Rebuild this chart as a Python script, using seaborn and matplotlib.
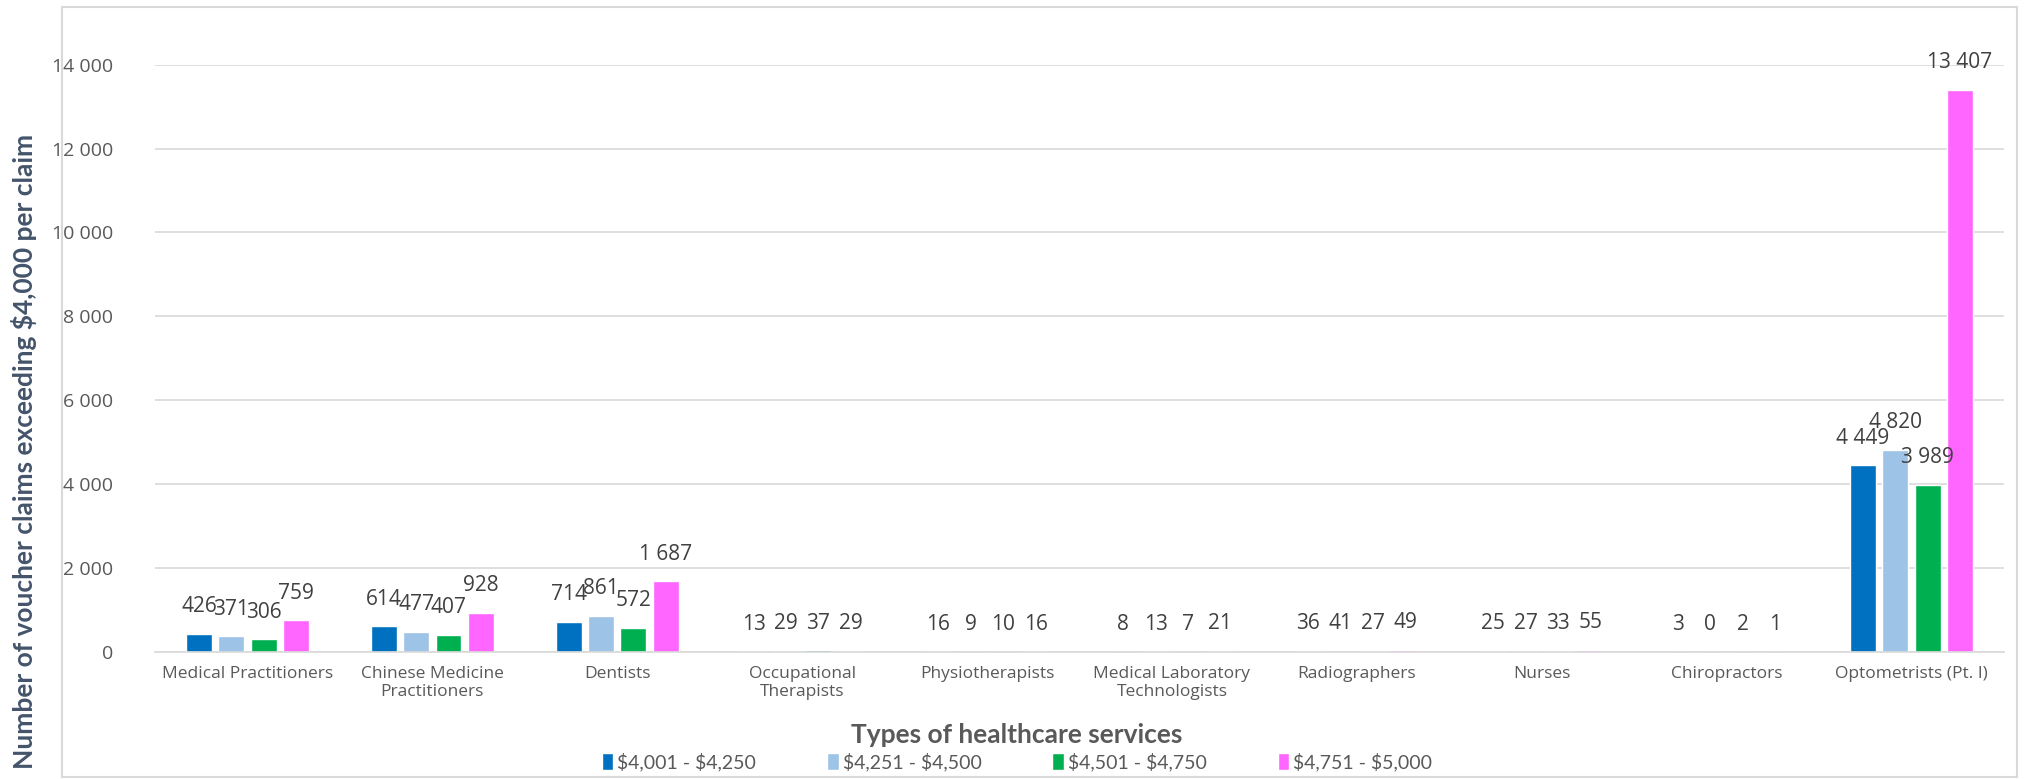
import pandas as pd
import seaborn as sns
import matplotlib.pyplot as plt
from matplotlib.patches import Rectangle

services = ["Medical Practitioners", "Chinese Medicine\nPractitioners", "Dentists",
            "Occupational\nTherapists", "Physiotherapists", "Medical Laboratory\nTechnologists",
            "Radiographers", "Nurses", "Chiropractors", "Optometrists (Pt. I)"]
ranges = ["$4,001 - $4,250", "$4,251 - $4,500", "$4,501 - $4,750", "$4,751 - $5,000"]

r1 = [426, 614, 714, 13, 16, 8, 36, 25, 3, 4449]
r2 = [371, 477, 861, 29, 9, 13, 41, 27, 0, 4820]
r3 = [306, 407, 572, 37, 10, 7, 27, 33, 2, 3989]
r4 = [759, 928, 1687, 29, 16, 21, 49, 55, 1, 13407]

colors = ["#0070C0", "#9DC3E6", "#00B050", "#FF66FF"]

rows = []
for rng, vals in zip(ranges, [r1, r2, r3, r4]):
    for s, v in zip(services, vals):
        rows.append({"service": s, "range": rng, "claims": v})
df = pd.DataFrame(rows)

sns.set_style("white")
plt.rcParams["font.family"] = ["Open Sans", "DejaVu Sans"]
plt.rcParams["text.parse_math"] = False

fig = plt.figure(figsize=(20.34, 7.79), dpi=100)
ax = fig.add_axes([0.0762, 0.163, 0.909, 0.754])

sns.barplot(data=df, x="service", y="claims", hue="range", palette=colors,
            saturation=1, width=0.7, gap=0.2, ax=ax, legend=True)

for cont in ax.containers:
    labels = [f"{int(v):,}".replace(",", " ") for v in cont.datavalues]
    ax.bar_label(cont, labels=labels, padding=12, fontsize=15, color="#404040")

ax.set_ylim(0, 14000)
ax.set_yticks(range(0, 14001, 2000))
ax.set_yticklabels([f"{t:,}".replace(",", " ") for t in range(0, 14001, 2000)],
                   fontsize=14, color="#595959")
ax.tick_params(axis="x", labelsize=12.5, colors="#595959", length=0, pad=10)
ax.tick_params(axis="y", length=0, pad=30)
ax.grid(axis="y", color="#D9D9D9", linewidth=1.2)
ax.set_axisbelow(True)
for sp in ["top", "right", "left"]:
    ax.spines[sp].set_visible(False)
ax.spines["bottom"].set_color("#D9D9D9")
ax.spines["bottom"].set_linewidth(1.2)
ax.set_xlim(-0.5, 9.5)

ax.set_xlabel("")
ax.set_ylabel("")
fig.text(0.5, 0.056, "Types of healthcare services", ha="center", va="center",
         fontsize=19, fontweight="bold", color="#595959", family=["Lato", "DejaVu Sans"])
fig.text(0.012, 0.42, "Number of voucher claims exceeding $4,000 per claim", ha="center",
         va="center", rotation=90, fontsize=19, fontweight="bold", color="#44546A",
         family=["Lato", "DejaVu Sans"])

handles, labels = ax.get_legend_handles_labels()
ax.legend_.remove()
fig.legend(handles, labels, loc="center", bbox_to_anchor=(0.5, 0.022), ncol=4,
           frameon=False, handlelength=0.6, handleheight=0.9,
           handletextpad=0.2, columnspacing=3.65,
           prop={"family": ["Lato", "DejaVu Sans"], "size": 14})
for t in fig.legends[0].get_texts():
    t.set_color("#595959")

fig.patches.append(Rectangle((0.0305, 0.003), 0.961, 0.988, transform=fig.transFigure,
                             fill=False, edgecolor="#D9D9D9", linewidth=1.5))

plt.savefig("out.png", dpi=100)
